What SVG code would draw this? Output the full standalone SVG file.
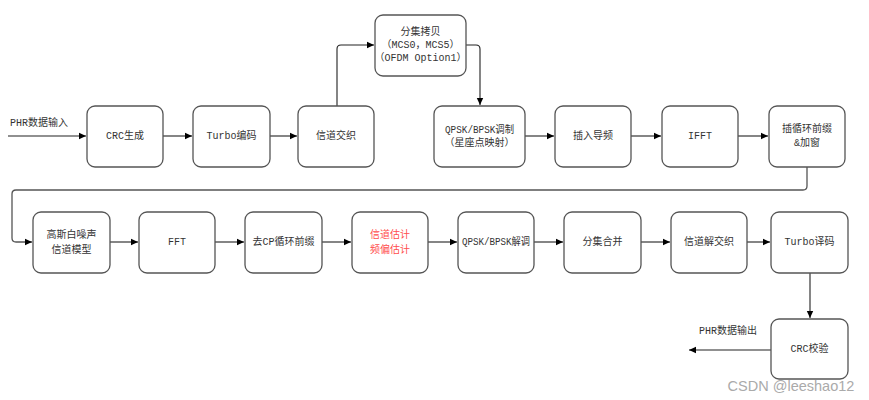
<svg xmlns="http://www.w3.org/2000/svg" width="869" height="400" viewBox="0 0 869 400">
<defs>
<marker id="ah" markerWidth="8" markerHeight="8" refX="7" refY="4" orient="auto" markerUnits="userSpaceOnUse">
<path d="M0,0.8 L7,4 L0,7.2 Z" fill="#000"/>
</marker>
<style>
.box{fill:#fff;stroke:#555;stroke-width:1.3}
.t{font-family:"Liberation Mono","Noto Sans CJK SC",monospace;font-size:10px;fill:#333;text-anchor:middle;dominant-baseline:central}
.red{fill:#ff4d4d}
.c{fill:none;stroke:#222;stroke-width:1.1}
.fb{fill:none;stroke:#555;stroke-width:1.3}
</style>
</defs>
<rect width="869" height="400" fill="#fff"/>
<g id="connectors">
<path class="c" d="M8,136 H86" marker-end="url(#ah)"/>
<path class="c" d="M163,136 H192" marker-end="url(#ah)"/>
<path class="c" d="M270,136 H297" marker-end="url(#ah)"/>
<path class="c" d="M337,106 V49 Q337,45 341,45 H374" marker-end="url(#ah)"/>
<path class="c" d="M466,45 H476 Q480,45 480,49 V105" marker-end="url(#ah)"/>
<path class="c" d="M525,136 H554" marker-end="url(#ah)"/>
<path class="c" d="M631,136 H661" marker-end="url(#ah)"/>
<path class="c" d="M738,136 H768" marker-end="url(#ah)"/>
<path class="fb" d="M807,167 V186 Q807,190 803,190 H16 Q12,190 12,194 V238 Q12,242 16,242 H32" marker-end="url(#ah)"/>
<path class="c" d="M110,242 H138" marker-end="url(#ah)"/>
<path class="c" d="M215,242 H244" marker-end="url(#ah)"/>
<path class="c" d="M322,242 H351" marker-end="url(#ah)"/>
<path class="c" d="M428,242 H457" marker-end="url(#ah)"/>
<path class="c" d="M534,242 H563" marker-end="url(#ah)"/>
<path class="c" d="M641,242 H670" marker-end="url(#ah)"/>
<path class="c" d="M747,242 H770" marker-end="url(#ah)"/>
<path class="c" d="M810,273 V318" marker-end="url(#ah)"/>
<path class="c" d="M771,350 H689" marker-end="url(#ah)"/>
</g>
<g id="label-in"><text class="t" x="39" y="123">PHR数据输入</text></g>
<g id="label-out"><text class="t" x="728" y="331">PHR数据输出</text></g>
<g id="n-crc"><rect class="box" x="87" y="106" width="76" height="61" rx="8"/><text class="t" x="125" y="136">CRC生成</text></g>
<g id="n-turbo"><rect class="box" x="193" y="106" width="77" height="61" rx="8"/><text class="t" x="231.5" y="136">Turbo编码</text></g>
<g id="n-interleave"><rect class="box" x="298" y="106" width="76" height="61" rx="8"/><text class="t" x="336" y="136">信道交织</text></g>
<g id="n-copy"><rect class="box" x="375" y="15" width="91" height="61" rx="8"/><text class="t" x="420.5" y="32">分集拷贝</text><text class="t" x="420.5" y="45">（MCS0，MCS5）</text><text class="t" x="420.5" y="58">（OFDM Option1）</text></g>
<g id="n-qpsk"><rect class="box" x="434" y="106" width="91" height="61" rx="8"/><text class="t" x="479.5" y="130" textLength="69" lengthAdjust="spacingAndGlyphs">QPSK/BPSK调制</text><text class="t" x="479.5" y="143">（星座点映射）</text></g>
<g id="n-pilot"><rect class="box" x="555" y="106" width="76" height="61" rx="8"/><text class="t" x="593" y="136">插入导频</text></g>
<g id="n-ifft"><rect class="box" x="662" y="106" width="76" height="61" rx="8"/><text class="t" x="700" y="136">IFFT</text></g>
<g id="n-cp"><rect class="box" x="769" y="106" width="76" height="61" rx="8"/><text class="t" x="807" y="129">插循环前缀</text><text class="t" x="807" y="143">&amp;加窗</text></g>
<g id="n-awgn"><rect class="box" x="33" y="212" width="77" height="61" rx="8"/><text class="t" x="71.5" y="235">高斯白噪声</text><text class="t" x="71.5" y="250">信道模型</text></g>
<g id="n-fft"><rect class="box" x="139" y="212" width="76" height="61" rx="8"/><text class="t" x="177" y="242">FFT</text></g>
<g id="n-rmcp"><rect class="box" x="245" y="212" width="77" height="61" rx="8"/><text class="t" x="283.5" y="242">去CP循环前缀</text></g>
<g id="n-est"><rect class="box" x="352" y="212" width="76" height="61" rx="8"/><text class="t red" x="390" y="235">信道估计</text><text class="t red" x="390" y="250">频偏估计</text></g>
<g id="n-demod"><rect class="box" x="458" y="212" width="76" height="61" rx="8"/><text class="t" x="496" y="242" textLength="68" lengthAdjust="spacingAndGlyphs">QPSK/BPSK解调</text></g>
<g id="n-combine"><rect class="box" x="564" y="212" width="77" height="61" rx="8"/><text class="t" x="602.5" y="242">分集合并</text></g>
<g id="n-deint"><rect class="box" x="671" y="212" width="76" height="61" rx="8"/><text class="t" x="709" y="242">信道解交织</text></g>
<g id="n-tdec"><rect class="box" x="771" y="212" width="77" height="61" rx="8"/><text class="t" x="809.5" y="242">Turbo译码</text></g>
<g id="n-crccheck"><rect class="box" x="771" y="319" width="77" height="60" rx="8"/><text class="t" x="809.5" y="349">CRC校验</text></g>
<text x="791" y="391" font-family="Liberation Sans, sans-serif" font-size="14.5" fill="#aaa" text-anchor="middle">CSDN @leeshao12</text>
</svg>
